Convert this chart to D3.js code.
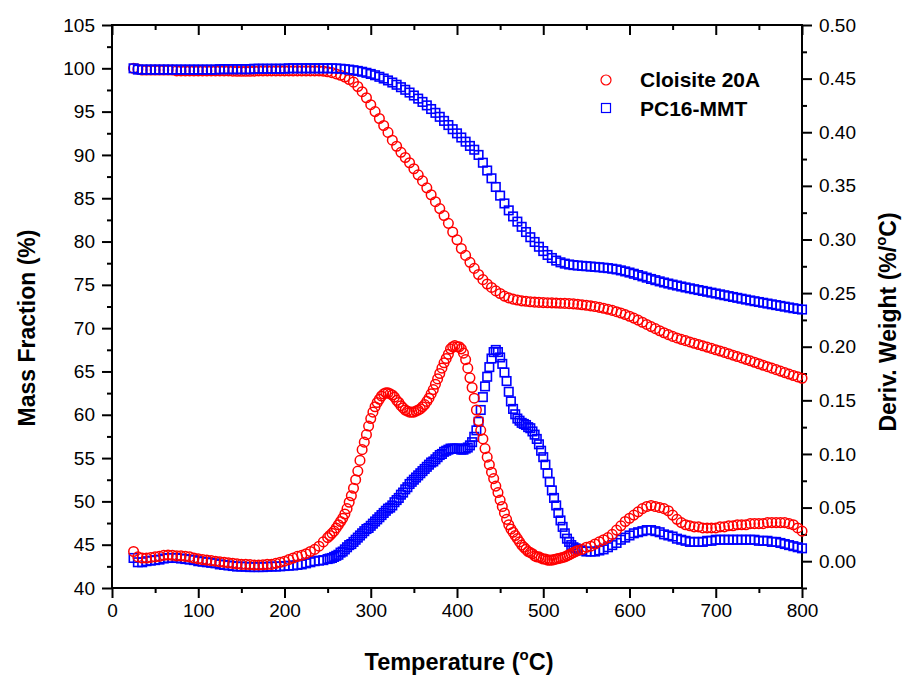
<!DOCTYPE html>
<html>
<head>
<meta charset="utf-8">
<script src="https://cdn.jsdelivr.net/npm/d3@7"></script>
<style>
  html, body { margin: 0; padding: 0; background: #fff; }
  text { font-family: "Liberation Sans", Arial, sans-serif; }
</style>
</head>
<body>
<svg id="chart" width="907" height="679"></svg>
<script>
// ---------------- DATA ----------------
// Mass fraction sampled every 5 °C from 25 to 800 °C
const tempMass = d3.range(25, 801, 5);
const massC20A = [
  100.0, 99.9, 99.8, 99.8, 99.8, 99.8, 99.8, 99.8, 99.8, 99.8,          // 25-70
  99.7, 99.7, 99.7, 99.7, 99.7, 99.7, 99.7, 99.7, 99.7, 99.7,           // 75-120
  99.7, 99.7, 99.7, 99.68, 99.66, 99.66, 99.66, 99.66, 99.68, 99.7,     // 125-170
  99.7, 99.7, 99.7, 99.7, 99.7, 99.7, 99.7, 99.7, 99.7, 99.7,           // 175-220
  99.7, 99.7, 99.7, 99.7, 99.68, 99.6, 99.5, 99.35, 99.2, 99.0,         // 225-270
  98.7, 98.4, 97.9, 97.3, 96.6, 95.8, 95.0, 94.2, 93.4, 92.6,           // 275-320
  91.7, 91.0, 90.3, 89.7, 89.1, 88.4, 87.7, 87.0, 86.2, 85.4,           // 325-370
  84.6, 83.8, 83.0, 82.1, 81.1, 80.2, 79.2, 78.4, 77.6, 76.9,           // 375-420
  76.2, 75.6, 75.1, 74.7, 74.3, 74.0, 73.7, 73.5, 73.35, 73.25,         // 425-470
  73.15, 73.1, 73.05, 73.0, 72.98, 72.95, 72.93, 72.92, 72.9, 72.88,    // 475-520
  72.86, 72.83, 72.8, 72.76, 72.7, 72.64, 72.57, 72.5, 72.4, 72.3,      // 525-570
  72.18, 72.05, 71.9, 71.75, 71.57, 71.37, 71.16, 70.93, 70.68, 70.43,  // 575-620
  70.18, 69.94, 69.7, 69.47, 69.25, 69.05, 68.87, 68.71, 68.56, 68.41, // 625-670
  68.26, 68.11, 67.96, 67.81, 67.66, 67.51, 67.36, 67.2, 67.04, 66.88,  // 675-720
  66.72, 66.56, 66.4, 66.23, 66.06, 65.89, 65.72, 65.55, 65.38, 65.21,  // 725-770
  65.04, 64.87, 64.7, 64.53, 64.37, 64.22                               // 775-800
];
const massPC16 = [
  100.0, 99.85, 99.85, 99.85, 99.85, 99.85, 99.85, 99.85, 99.85, 99.85, // 25-70
  99.85, 99.85, 99.85, 99.85, 99.85, 99.85, 99.85, 99.85, 99.85, 99.85, // 75-120
  99.9, 99.9, 99.9, 99.9, 99.9, 99.9, 99.9, 99.9, 99.95, 99.95,         // 125-170
  99.95, 99.95, 99.95, 99.95, 99.95, 99.95, 100.0, 100.0, 100.0, 100.0, // 175-220
  100.0, 100.0, 100.0, 100.0, 100.0, 100.0, 100.0, 99.98, 99.95, 99.9,  // 225-270
  99.85, 99.78, 99.7, 99.6, 99.48, 99.35, 99.2, 99.02, 98.82, 98.6,     // 275-320
  98.36, 98.1, 97.82, 97.52, 97.2, 96.86, 96.5, 96.12, 95.72, 95.3,     // 325-370
  94.86, 94.4, 93.93, 93.45, 92.97, 92.49, 92.01, 91.53, 91.04, 90.6,   // 375-420
  90.0, 89.1, 88.2, 87.3, 86.3, 85.3, 84.4, 83.6, 82.9, 82.3,           // 425-470
  81.7, 81.1, 80.5, 79.95, 79.4, 78.9, 78.45, 78.1, 77.8, 77.6,         // 475-520
  77.45, 77.35, 77.28, 77.23, 77.19, 77.15, 77.11, 77.07, 77.03, 76.98, // 525-570
  76.93, 76.86, 76.78, 76.67, 76.55, 76.42, 76.28, 76.13, 75.98, 75.83, // 575-620
  75.68, 75.54, 75.4, 75.27, 75.15, 75.03, 74.92, 74.81, 74.7, 74.6,    // 625-670
  74.5, 74.4, 74.3, 74.2, 74.1, 74.0, 73.9, 73.8, 73.7, 73.6,           // 675-720
  73.5, 73.4, 73.3, 73.2, 73.11, 73.02, 72.93, 72.84, 72.75, 72.66,     // 725-770
  72.57, 72.48, 72.39, 72.3, 72.22, 72.15                               // 775-800
];

// Derivative weight: every 5 °C to 250, every 2.5 °C from 252.5 to 540, every 5 °C to 800
const tempDeriv = [].concat(d3.range(25, 251, 5), d3.range(252.5, 541, 2.5), d3.range(545, 801, 5));
const derivC20A = [
  0.009, 0.004, 0.003, 0.003, 0.0035, 0.004, 0.0045, 0.0055, 0.0058, 0.0055,              // 25-70
  0.005, 0.005, 0.0045, 0.004, 0.003, 0.0022, 0.0015, 0.001, 0.0005, 0.0,                 // 75-120
  -0.0005, -0.001, -0.0015, -0.002, -0.0025, -0.003, -0.003, -0.0032, -0.0035, -0.0035,   // 125-170
  -0.0033, -0.003, -0.003, -0.002, -0.001, 0.0, 0.0015, 0.003, 0.0045, 0.0055,            // 175-220
  0.007, 0.009, 0.011, 0.014, 0.018, 0.022,                                               // 225-250
  0.024, 0.026, 0.028, 0.031, 0.034, 0.037, 0.040, 0.044, 0.049, 0.055,                   // 252.5-275
  0.061, 0.068, 0.076, 0.084, 0.094, 0.104, 0.111, 0.118, 0.126, 0.133,                   // 277.5-300
  0.139, 0.144, 0.148, 0.151, 0.154, 0.156, 0.157, 0.157, 0.156, 0.155,                   // 302.5-325
  0.153, 0.150, 0.148, 0.145, 0.143, 0.141, 0.140, 0.139, 0.139, 0.139,                   // 327.5-350
  0.140, 0.141, 0.142, 0.144, 0.146, 0.149, 0.152, 0.156, 0.160, 0.165,                   // 352.5-375
  0.170, 0.175, 0.180, 0.185, 0.189, 0.193, 0.198, 0.200, 0.201, 0.200,                   // 377.5-400
  0.200, 0.198, 0.194, 0.188, 0.180, 0.171, 0.162, 0.152, 0.141, 0.131,                   // 402.5-425
  0.122, 0.114, 0.105, 0.097, 0.090, 0.083, 0.077, 0.070, 0.064, 0.057,                   // 427.5-450
  0.051, 0.045, 0.039, 0.034, 0.030, 0.027, 0.024, 0.021, 0.018, 0.015,                   // 452.5-475
  0.013, 0.011, 0.009, 0.008, 0.007, 0.005, 0.004, 0.004, 0.003, 0.002,                   // 477.5-500
  0.002, 0.001, 0.001, 0.001, 0.0015, 0.002, 0.0025, 0.003, 0.0035, 0.004,                // 502.5-525
  0.005, 0.006, 0.007, 0.008, 0.009, 0.010,                                               // 527.5-540
  0.011, 0.013, 0.014, 0.016, 0.018, 0.020, 0.022, 0.025, 0.029, 0.033,                   // 545-590
  0.037, 0.040, 0.043, 0.046, 0.049, 0.051, 0.052, 0.051, 0.050, 0.049,                   // 595-640
  0.047, 0.043, 0.039, 0.036, 0.034, 0.033, 0.032, 0.032, 0.031, 0.031,                   // 645-690
  0.031, 0.031, 0.032, 0.032, 0.033, 0.033, 0.034, 0.034, 0.034, 0.035,                   // 695-740
  0.035, 0.035, 0.035, 0.036, 0.036, 0.036, 0.036, 0.036, 0.035, 0.034,                   // 745-790
  0.031, 0.028                                                                            // 795-800
];
const derivPC16 = [
  0.003, -0.001, -0.001, 0.0, 0.0005, 0.001, 0.0015, 0.0025, 0.003, 0.003,                // 25-70
  0.003, 0.0025, 0.002, 0.0015, 0.001, 0.0, -0.0005, -0.001, -0.0015, -0.002,             // 75-120
  -0.003, -0.0035, -0.004, -0.0045, -0.005, -0.005, -0.0052, -0.0055, -0.0055, -0.0055,   // 125-170
  -0.0055, -0.0052, -0.005, -0.005, -0.0048, -0.0045, -0.0042, -0.004, -0.0035, -0.003,   // 175-220
  -0.002, -0.001, 0.0, 0.0005, 0.001, 0.002,                                              // 225-250
  0.0025, 0.003, 0.004, 0.005, 0.006, 0.008, 0.009, 0.011, 0.013, 0.015,                  // 252.5-275
  0.016, 0.018, 0.020, 0.022, 0.024, 0.026, 0.028, 0.030, 0.031, 0.033,                   // 277.5-300
  0.035, 0.037, 0.039, 0.041, 0.043, 0.045, 0.047, 0.049, 0.050, 0.052,                   // 302.5-325
  0.055, 0.057, 0.059, 0.062, 0.064, 0.067, 0.069, 0.072, 0.074, 0.076,                   // 327.5-350
  0.078, 0.080, 0.082, 0.084, 0.086, 0.088, 0.090, 0.092, 0.093, 0.095,                   // 352.5-375
  0.097, 0.099, 0.100, 0.102, 0.103, 0.104, 0.105, 0.105, 0.105, 0.105,                   // 377.5-400
  0.105, 0.104, 0.104, 0.105, 0.106, 0.108, 0.111, 0.116, 0.122, 0.130,                   // 402.5-425
  0.141, 0.153, 0.163, 0.172, 0.181, 0.189, 0.195, 0.197, 0.195, 0.190,                   // 427.5-450
  0.184, 0.176, 0.168, 0.158, 0.149, 0.142, 0.137, 0.133, 0.131, 0.129,                   // 452.5-475
  0.128, 0.127, 0.125, 0.124, 0.121, 0.118, 0.114, 0.109, 0.103, 0.097,                   // 477.5-500
  0.090, 0.082, 0.074, 0.066, 0.059, 0.052, 0.045, 0.038, 0.032, 0.026,                   // 502.5-525
  0.021, 0.018, 0.015, 0.013, 0.012, 0.011,                                               // 527.5-540
  0.010, 0.009, 0.009, 0.009, 0.010, 0.011, 0.013, 0.015, 0.017, 0.020,                   // 545-590
  0.022, 0.024, 0.026, 0.027, 0.028, 0.029, 0.029, 0.028, 0.027, 0.025,                   // 595-640
  0.024, 0.023, 0.021, 0.020, 0.019, 0.018, 0.018, 0.018, 0.018, 0.019,                   // 645-690
  0.019, 0.020, 0.020, 0.020, 0.020, 0.020, 0.020, 0.020, 0.020, 0.020,                   // 695-740
  0.020, 0.019, 0.019, 0.019, 0.018, 0.018, 0.017, 0.016, 0.015, 0.014,                   // 745-790
  0.013, 0.012                                                                            // 795-800
];

const seriesNames = ["Cloisite 20A", "PC16-MMT"];
const xMajorTicks = d3.range(0, 801, 100);
const xMinorTicks = d3.range(50, 800, 100);
const yLeftMajorTicks = d3.range(40, 106, 5);
const yLeftMinorTicks = d3.range(42.5, 105, 5);
const yRightMajorTicks = d3.range(0, 0.501, 0.05);
const yRightMinorTicks = d3.range(-0.025, 0.5, 0.05);

// ---------------- LAYOUT ----------------
const svg = d3.select("#chart");
const L = 112, R = 802, T = 25, B = 588;
const RED = "#ff0000", BLUE = "#0000ff";

const x = d3.scaleLinear().domain([0, 800]).range([L, R]);
const yL = d3.scaleLinear().domain([40, 105]).range([B, T]);
const yR = d3.scaleLinear().domain([-0.025, 0.5]).range([B, T]);

const FONT_TICK = 19;

function styleAxis(g) {
  g.select(".domain").remove();
  g.selectAll(".tick line").attr("stroke", "#000").attr("stroke-width", 2);
  g.selectAll(".tick text").attr("fill", "#000")
    .style("font-size", FONT_TICK + "px")
    .style("font-family", '"Liberation Sans", Arial, sans-serif');
}

// bottom
svg.append("g").attr("transform", `translate(0,${B})`)
  .call(d3.axisBottom(x).tickValues(xMajorTicks).tickSize(10).tickPadding(6).tickFormat(d3.format("d")))
  .call(styleAxis);
svg.append("g").attr("transform", `translate(0,${B})`)
  .call(d3.axisBottom(x).tickValues(xMinorTicks).tickSize(5).tickFormat(""))
  .call(styleAxis);
// top (inward)
svg.append("g").attr("transform", `translate(0,${T})`)
  .call(d3.axisBottom(x).tickValues(xMajorTicks).tickSize(10).tickFormat(""))
  .call(styleAxis);
svg.append("g").attr("transform", `translate(0,${T})`)
  .call(d3.axisBottom(x).tickValues(xMinorTicks).tickSize(5).tickFormat(""))
  .call(styleAxis);
// left
svg.append("g").attr("transform", `translate(${L},0)`)
  .call(d3.axisLeft(yL).tickValues(yLeftMajorTicks).tickSize(10).tickPadding(7).tickFormat(d3.format("d")))
  .call(styleAxis);
svg.append("g").attr("transform", `translate(${L},0)`)
  .call(d3.axisLeft(yL).tickValues(yLeftMinorTicks).tickSize(5).tickFormat(""))
  .call(styleAxis);
// right
svg.append("g").attr("transform", `translate(${R},0)`)
  .call(d3.axisRight(yR).tickValues(yRightMajorTicks).tickSize(10).tickPadding(7).tickFormat(d3.format(".2f")))
  .call(styleAxis);
svg.append("g").attr("transform", `translate(${R},0)`)
  .call(d3.axisRight(yR).tickValues(yRightMinorTicks).tickSize(5).tickFormat(""))
  .call(styleAxis);

// frame
svg.append("rect").attr("x", L).attr("y", T).attr("width", R - L).attr("height", B - T)
  .attr("fill", "none").attr("stroke", "#000").attr("stroke-width", 2);

// ---------------- MARKS ----------------
function circles(temps, vals, yScale) {
  svg.append("g").selectAll("circle").data(vals).join("circle")
    .attr("cx", (d, i) => x(temps[i])).attr("cy", d => yScale(d)).attr("r", 4.8)
    .attr("fill", "none").attr("stroke", RED).attr("stroke-width", 1.5);
}
function squares(temps, vals, yScale) {
  const s = 8.5;
  svg.append("g").selectAll("rect").data(vals).join("rect")
    .attr("x", (d, i) => x(temps[i]) - s / 2).attr("y", d => yScale(d) - s / 2)
    .attr("width", s).attr("height", s)
    .attr("fill", "none").attr("stroke", BLUE).attr("stroke-width", 1.6);
}
circles(tempMass, massC20A, yL);
squares(tempMass, massPC16, yL);
squares(tempDeriv, derivPC16, yR);
circles(tempDeriv, derivC20A, yR);

// ---------------- LEGEND ----------------
const leg = svg.append("g");
leg.append("circle").attr("cx", 606).attr("cy", 80).attr("r", 5)
  .attr("fill", "none").attr("stroke", RED).attr("stroke-width", 1.2);
leg.append("rect").attr("x", 601.5).attr("y", 103.5).attr("width", 9).attr("height", 9)
  .attr("fill", "none").attr("stroke", BLUE).attr("stroke-width", 1.2);
leg.append("text").attr("x", 640).attr("y", 87).text(seriesNames[0])
  .style("font-size", "21px").style("font-weight", "bold");
leg.append("text").attr("x", 640).attr("y", 116).text(seriesNames[1])
  .style("font-size", "21px").style("font-weight", "bold");

// ---------------- TITLES ----------------
const xt = svg.append("text").attr("x", 459).attr("y", 670).attr("text-anchor", "middle")
  .style("font-size", "23.5px").style("font-weight", "bold");
xt.append("tspan").text("Temperature (");
xt.append("tspan").attr("dy", -10).style("font-size", "15px").text("o");
xt.append("tspan").attr("dy", 10).text("C)");

svg.append("text").attr("transform", "translate(35,328) rotate(-90)").attr("text-anchor", "middle")
  .style("font-size", "23px").style("font-weight", "bold").text("Mass Fraction (%)");

const rt = svg.append("text").attr("transform", "translate(896,322) rotate(-90)").attr("text-anchor", "middle")
  .style("font-size", "23px").style("font-weight", "bold");
rt.append("tspan").text("Deriv. Weight (%/");
rt.append("tspan").attr("dy", -10).style("font-size", "15px").text("o");
rt.append("tspan").attr("dy", 10).text("C)");
</script>
</body>
</html>
